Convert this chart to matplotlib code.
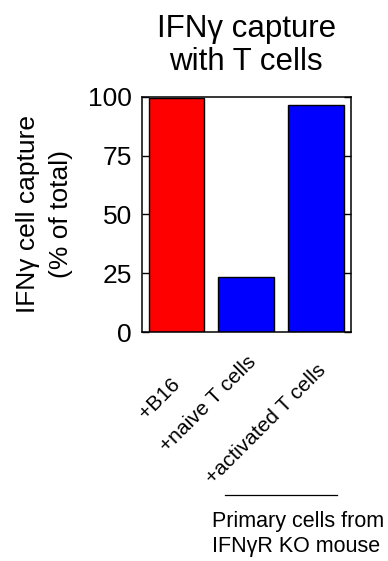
import matplotlib
matplotlib.use("Agg")
import matplotlib.pyplot as plt
import matplotlib.transforms as mtransforms

plt.rcParams['font.family'] = ['Liberation Sans', 'DejaVu Sans']

categories = ["+B16", "+naive T cells", "+activated T cells"]
values = [99.6, 23.6, 96.6]
colors = ["#FF0000", "#0000FF", "#0000FF"]
yticks = [0, 25, 50, 75, 100]

fig = plt.figure(figsize=(3.88, 5.61), dpi=100)
ax = fig.add_axes([0.365, 0.4077, 0.5395, 0.42])

x = list(range(len(categories)))
ax.bar(x, values, width=0.8, color=colors, edgecolor="black", linewidth=1.0)
ax.set_xlim(-0.5, 2.5)
ax.set_ylim(0, 100)
ax.set_yticks(yticks)
ax.set_yticklabels([str(v) for v in yticks], fontsize=19)
ax.tick_params(axis='y', direction='in', length=5, width=1, left=True, right=True, pad=7)
ax.tick_params(axis='x', length=0, pad=0)
for s in ax.spines.values():
    s.set_linewidth(1.1)

ax.set_xticks(x)
ax.set_xticklabels(categories, fontsize=15, rotation=45, ha='right',
                   va='center', rotation_mode='anchor')
offsets = [(1.0, -49), (7.0, -27), (7.0, -35)]
for lbl, (dx, dy) in zip(ax.get_xticklabels(), offsets):
    lbl.set_transform(lbl.get_transform() +
                      mtransforms.ScaledTranslation(dx / 100, dy / 100, fig.dpi_scale_trans))

ax.set_title("IFN\u03b3 capture\nwith T cells", fontsize=22.5, pad=19, linespacing=1.15)
ax.set_ylabel("IFN\u03b3 cell capture\n(% of total)", fontsize=19, linespacing=1.45)
ax.yaxis.set_label_coords(-0.33, 0.5)

ax.plot([0.398, 0.933], [-0.691, -0.691], color="black", linewidth=0.9,
        transform=ax.transAxes, clip_on=False)
ax.text(0.334, -0.76, "Primary cells from\nIFN\u03b3R KO mouse", transform=ax.transAxes,
        ha='left', va='top', fontsize=15.5, linespacing=1.22)

fig.savefig("out.png", dpi=100)
